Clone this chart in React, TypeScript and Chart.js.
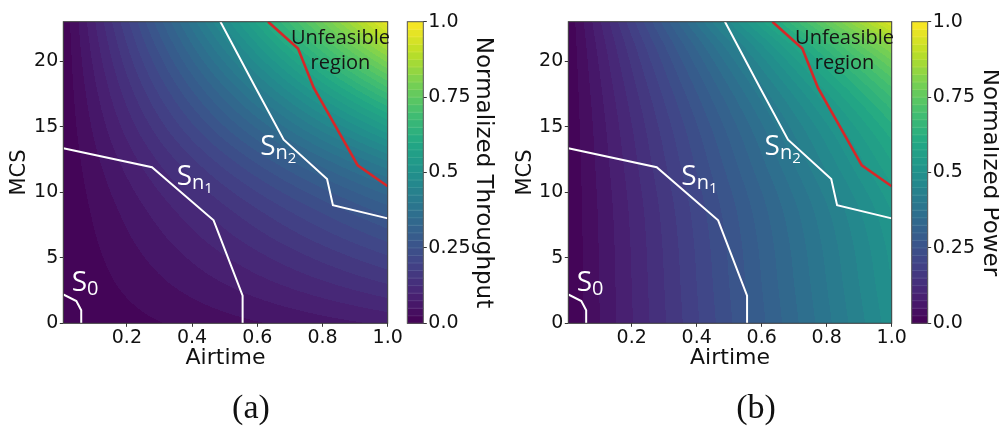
import { useEffect, useRef } from 'react';
import { Chart, registerables } from 'chart.js';

Chart.register(...registerables);

// ---------------- data ----------------
// grid nodes of the two fields
const airtimeNodes = [0, 0.1, 0.2, 0.3, 0.4, 0.5, 0.6, 0.7, 0.8, 0.9, 1.0];
const mcsNodes = [0, 3, 6, 9, 12, 15, 18, 21, 23];

// (a) normalized throughput, one row per MCS node (bottom to top)
const throughputGrid = [
  [0.000, 0.008, 0.016, 0.024, 0.032, 0.040, 0.048, 0.056, 0.064, 0.072, 0.080],
  [0.000, 0.015, 0.030, 0.045, 0.060, 0.075, 0.090, 0.105, 0.120, 0.135, 0.150],
  [0.000, 0.022, 0.044, 0.066, 0.088, 0.110, 0.132, 0.154, 0.176, 0.198, 0.220],
  [0.000, 0.030, 0.060, 0.090, 0.120, 0.150, 0.180, 0.210, 0.240, 0.270, 0.300],
  [0.000, 0.041, 0.082, 0.123, 0.164, 0.205, 0.246, 0.287, 0.328, 0.369, 0.410],
  [0.000, 0.055, 0.110, 0.165, 0.220, 0.275, 0.330, 0.385, 0.440, 0.495, 0.550],
  [0.000, 0.070, 0.140, 0.210, 0.280, 0.350, 0.420, 0.490, 0.560, 0.630, 0.700],
  [0.000, 0.086, 0.172, 0.258, 0.344, 0.430, 0.516, 0.602, 0.688, 0.774, 0.860],
  [0.000, 0.097, 0.194, 0.291, 0.388, 0.485, 0.582, 0.679, 0.776, 0.873, 0.970],
];

// (b) normalized power, one row per MCS node (bottom to top)
const powerGrid = [
  [0.000, 0.049, 0.098, 0.147, 0.196, 0.245, 0.294, 0.343, 0.392, 0.441, 0.490],
  [0.000, 0.050, 0.100, 0.150, 0.200, 0.250, 0.300, 0.350, 0.400, 0.450, 0.500],
  [0.000, 0.051, 0.102, 0.153, 0.204, 0.255, 0.306, 0.357, 0.408, 0.459, 0.510],
  [0.000, 0.053, 0.106, 0.159, 0.212, 0.265, 0.318, 0.371, 0.424, 0.477, 0.530],
  [0.000, 0.057, 0.114, 0.171, 0.228, 0.285, 0.342, 0.399, 0.456, 0.513, 0.570],
  [0.000, 0.062, 0.124, 0.186, 0.248, 0.310, 0.372, 0.434, 0.496, 0.558, 0.620],
  [0.000, 0.070, 0.140, 0.210, 0.280, 0.350, 0.420, 0.490, 0.560, 0.630, 0.700],
  [0.000, 0.082, 0.164, 0.246, 0.328, 0.410, 0.492, 0.574, 0.656, 0.738, 0.820],
  [0.000, 0.095, 0.190, 0.285, 0.380, 0.475, 0.570, 0.665, 0.760, 0.855, 0.950],
];

// boundary lines
const s0Airtime = [0.005, 0.045, 0.06, 0.06];
const s0Mcs = [2.2, 1.7, 1.0, 0];
const sn1Airtime = [0.005, 0.277, 0.466, 0.555, 0.555];
const sn1Mcs = [13.35, 11.9, 7.85, 2.1, 0];
const sn2Airtime = [0.487, 0.594, 0.681, 0.814, 0.832, 1.0];
const sn2Mcs = [23, 18, 14, 11, 9, 8.0];
const unfeasibleAirtime = [0.633, 0.725, 0.773, 0.908, 1.0];
const unfeasibleMcs = [23, 20.95, 17.97, 12.05, 10.45];

// ticks
const xTickValues = [0.2, 0.4, 0.6, 0.8, 1.0];
const yTickValues = [0, 5, 10, 15, 20];
const cbTickValues = [0, 0.25, 0.5, 0.75, 1.0];
const cbTickLabels = ['0.0', '0.25', '0.5', '0.75', '1.0'];

// text labels inside the plot (anchors in data units)
const setLabelNames = ['0', 'n', 'n'];
const setLabelSubs = ['', '1', '2'];
const setLabelAirtime = [0.037, 0.359, 0.615];
const setLabelMcs = [2.49, 10.57, 12.86];
const regionLines = ['Unfeasible', 'region'];
const regionAirtime = 0.855;
const regionMcs = [21.28, 19.37];

// ---------------- styling helpers ----------------
const viridisStops = ['#440154', '#482475', '#414487', '#355f8d', '#2a788e', '#21918c',
  '#22a884', '#44bf70', '#7ad151', '#bddf26', '#fde725'];
const VIR = viridisStops.map((h) => [
  parseInt(h.slice(1, 3), 16), parseInt(h.slice(3, 5), 16), parseInt(h.slice(5, 7), 16)]);
function viridis(t: number): number[] {
  const tt = Math.max(0, Math.min(1, t));
  const f = tt * (VIR.length - 1);
  const i = Math.min(VIR.length - 2, Math.floor(f));
  const u = f - i;
  return VIR[i].map((c, k) => c + (VIR[i + 1][k] - c) * u);
}
const LEVELS = 40;

// cubic Hermite through (nodes, vals) evaluated at q
function hermite(nodes: number[], vals: number[], q: number): number {
  const n = nodes.length;
  const qq = Math.max(nodes[0], Math.min(nodes[n - 1], q));
  let j = 0;
  while (j < n - 2 && qq > nodes[j + 1]) j++;
  const tan = (k: number) => {
    if (k === 0) return (vals[1] - vals[0]) / (nodes[1] - nodes[0]);
    if (k === n - 1) return (vals[n - 1] - vals[n - 2]) / (nodes[n - 1] - nodes[n - 2]);
    return (vals[k + 1] - vals[k - 1]) / (nodes[k + 1] - nodes[k - 1]);
  };
  const hgt = nodes[j + 1] - nodes[j];
  const t = (qq - nodes[j]) / hgt;
  const t2 = t * t, t3 = t2 * t;
  return (2 * t3 - 3 * t2 + 1) * vals[j] + (t3 - 2 * t2 + t) * hgt * tan(j)
    + (-2 * t3 + 3 * t2) * vals[j + 1] + (t3 - t2) * hgt * tan(j + 1);
}

function fieldPlugin(grid: number[][], cbBarWidth: number) {
  return {
    id: 'fieldAndColorbar',
    beforeDatasetsDraw(chart: any) {
      const { ctx, chartArea, scales } = chart;
      const xs = scales.x, ys = scales.y, cb = scales.cb;
      const x0 = Math.floor(chartArea.left), x1 = Math.ceil(chartArea.right);
      const y0 = Math.floor(chartArea.top), y1 = Math.ceil(chartArea.bottom);
      const w = x1 - x0, h = y1 - y0;
      const off = document.createElement('canvas');
      off.width = w; off.height = h;
      const octx = off.getContext('2d')!;
      const img = octx.createImageData(w, h);
      for (let i = 0; i < w; i++) {
        const a = xs.getValueForPixel(x0 + i + 0.5);
        const col = grid.map((row) => hermite(airtimeNodes, row, a));
        for (let j = 0; j < h; j++) {
          const m = ys.getValueForPixel(y0 + j + 0.5);
          const val = hermite(mcsNodes, col, m);
          const lev = Math.max(0, Math.min(LEVELS - 1, Math.floor(val * LEVELS)));
          const c = viridis((lev + 0.5) / LEVELS);
          const p = (j * w + i) * 4;
          img.data[p] = c[0]; img.data[p + 1] = c[1]; img.data[p + 2] = c[2]; img.data[p + 3] = 255;
        }
      }
      octx.putImageData(img, 0, 0);
      ctx.save();
      ctx.beginPath();
      ctx.rect(chartArea.left, chartArea.top, chartArea.right - chartArea.left, chartArea.bottom - chartArea.top);
      ctx.clip();
      ctx.drawImage(off, x0, y0);
      ctx.restore();

      // colorbar
      const cbRight = cb.left;
      const cbLeft = cbRight - cbBarWidth;
      ctx.save();
      for (let k = 0; k < LEVELS; k++) {
        const yTop = cb.getPixelForValue((k + 1) / LEVELS);
        const yBot = cb.getPixelForValue(k / LEVELS);
        const c = viridis((k + 0.5) / LEVELS);
        ctx.fillStyle = `rgb(${c[0]},${c[1]},${c[2]})`;
        ctx.fillRect(cbLeft, yTop, cbBarWidth, yBot - yTop + 0.6);
      }
      ctx.strokeStyle = 'rgba(255,255,255,0.10)';
      ctx.lineWidth = 1;
      for (let k = 1; k < LEVELS; k++) {
        const yy = cb.getPixelForValue(k / LEVELS);
        ctx.beginPath(); ctx.moveTo(cbLeft, yy); ctx.lineTo(cbRight, yy); ctx.stroke();
      }
      const top = cb.getPixelForValue(1), bot = cb.getPixelForValue(0);
      ctx.strokeStyle = '#555';
      ctx.lineWidth = 1;
      ctx.strokeRect(cbLeft, top, cbBarWidth, bot - top);
      ctx.restore();
    },
  };
}

const labelPlugin = {
  id: 'regionLabels',
  afterDatasetsDraw(chart: any) {
    const { ctx, chartArea, scales } = chart;
    const xs = scales.x, ys = scales.y;
    ctx.save();
    ctx.strokeStyle = '#3a3a3a';
    ctx.lineWidth = 1;
    ctx.strokeRect(chartArea.left, chartArea.top, chartArea.right - chartArea.left, chartArea.bottom - chartArea.top);

    ctx.textAlign = 'left';
    ctx.textBaseline = 'alphabetic';
    ctx.fillStyle = '#ffffff';
    for (let k = 0; k < setLabelNames.length; k++) {
      const px = xs.getPixelForValue(setLabelAirtime[k]) - 2;
      const py = ys.getPixelForValue(setLabelMcs[k]);
      ctx.font = '28px "Open Sans"';
      ctx.fillText('S', px, py);
      let cx = px + ctx.measureText('S').width;
      ctx.font = '20px "Open Sans"';
      ctx.fillText(setLabelNames[k], cx, py + 4);
      cx += ctx.measureText(setLabelNames[k]).width;
      if (setLabelSubs[k]) {
        ctx.font = '15px "Open Sans"';
        ctx.fillText(setLabelSubs[k], cx, py + 8);
      }
    }
    ctx.textAlign = 'center';
    ctx.fillStyle = '#151515';
    ctx.font = '20px "Open Sans"';
    for (let k = 0; k < regionLines.length; k++) {
      ctx.fillText(regionLines[k], xs.getPixelForValue(regionAirtime), ys.getPixelForValue(regionMcs[k]));
    }
    ctx.restore();
  },
};

function linePts(xs: number[], ys: number[]) {
  return xs.map((x, i) => ({ x, y: ys[i] }));
}

interface PanelCfg {
  grid: number[][];
  caption: string;
  cbTitle: string;
  padLeft: number;
  padRight: number;
  yAxisWidth: number;
  gapWidth: number;
  cbAxisWidth: number;
  cbTitlePad: number;
}

const panelA: PanelCfg = {
  grid: throughputGrid, caption: '(a)', cbTitle: 'Normalized Throughput',
  padLeft: 7.4, padRight: 5.5, yAxisWidth: 55.9, gapWidth: 35.6, cbAxisWidth: 71.2, cbTitlePad: 0,
};
const panelB: PanelCfg = {
  grid: powerGrid, caption: '(b)', cbTitle: 'Normalized Power',
  padLeft: 13.2, padRight: 0, yAxisWidth: 55.1, gapWidth: 36, cbAxisWidth: 71.3, cbTitlePad: -2,
};

const TEXT = '#111111';
const FONT = 'DejaVu Sans';

function makeChart(canvas: HTMLCanvasElement, p: PanelCfg) {
  const lineDs = (xs: number[], ys: number[], color: string, width: number) => ({
    data: linePts(xs, ys),
    showLine: true,
    borderColor: color,
    borderWidth: width,
    pointRadius: 0,
    tension: 0,
    fill: false,
    xAxisID: 'x',
    yAxisID: 'y',
  });
  const tickGrid = { display: true, drawOnChartArea: false, drawTicks: true, tickLength: 3.5, color: '#333', lineWidth: 1 };
  const config: any = {
    type: 'scatter',
    data: {
      datasets: [
        lineDs(s0Airtime, s0Mcs, '#ffffff', 2),
        lineDs(sn1Airtime, sn1Mcs, '#ffffff', 2),
        lineDs(sn2Airtime, sn2Mcs, '#ffffff', 2),
        lineDs(unfeasibleAirtime, unfeasibleMcs, '#d62728', 2.6),
      ],
    },
    options: {
      responsive: false,
      maintainAspectRatio: false,
      animation: false,
      events: [],
      layout: { padding: { left: p.padLeft, right: p.padRight, top: 21.7, bottom: 4.8 } },
      plugins: {
        legend: { display: false },
        tooltip: { enabled: false },
        title: {
          display: true, position: 'bottom', text: p.caption, color: TEXT,
          font: { family: 'Liberation Serif', size: 34, weight: 'normal', lineHeight: 1.2 },
          padding: { top: 16.5, bottom: 0 },
        },
      },
      scales: {
        x: {
          type: 'linear', position: 'bottom', min: 0.005, max: 1,
          afterBuildTicks: (s: any) => { s.ticks = xTickValues.map((v) => ({ value: v })); },
          afterFit: (s: any) => { s.height = 48.6; },
          grid: tickGrid,
          border: { display: false },
          ticks: {
            color: TEXT, font: { family: FONT, size: 19 }, padding: 0, maxRotation: 0, autoSkip: false,
            callback: (v: any) => Number(v).toFixed(1),
          },
          title: { display: true, text: 'Airtime', color: TEXT, font: { family: FONT, size: 22 }, padding: 0 },
        },
        y: {
          type: 'linear', position: 'left', min: 0, max: 23,
          afterBuildTicks: (s: any) => { s.ticks = yTickValues.map((v) => ({ value: v })); },
          afterFit: (s: any) => { s.width = p.yAxisWidth; },
          grid: tickGrid,
          border: { display: false },
          ticks: {
            color: TEXT, font: { family: FONT, size: 19 }, padding: 1.5, autoSkip: false,
            callback: (v: any) => String(v),
          },
          title: { display: true, text: 'MCS', color: TEXT, font: { family: FONT, size: 21 }, padding: 0 },
        },
        gap: {
          type: 'linear', position: 'right', min: 0, max: 1, weight: 0,
          grid: { display: false }, border: { display: false }, ticks: { display: false },
          afterFit: (s: any) => { s.width = p.gapWidth; },
        },
        cb: {
          type: 'linear', position: 'right', min: 0, max: 1, weight: 1,
          afterBuildTicks: (s: any) => { s.ticks = cbTickValues.map((v) => ({ value: v })); },
          afterFit: (s: any) => { s.width = p.cbAxisWidth; },
          grid: tickGrid,
          border: { display: false },
          ticks: {
            color: TEXT, font: { family: FONT, size: 19 }, padding: 1.5, autoSkip: false,
            callback: (_v: any, i: number) => cbTickLabels[i],
          },
          title: {
            display: true, text: p.cbTitle, color: TEXT,
            font: { family: FONT, size: 23, lineHeight: 1 }, padding: { top: p.cbTitlePad, bottom: 0 },
          },
        },
      },
    },
    plugins: [fieldPlugin(p.grid, 16), labelPlugin],
  };
  return new Chart(canvas, config);
}

export default function App() {
  const refA = useRef<HTMLCanvasElement>(null);
  const refB = useRef<HTMLCanvasElement>(null);
  useEffect(() => {
    const charts = [makeChart(refA.current!, panelA), makeChart(refB.current!, panelB)];
    return () => charts.forEach((c) => c.destroy());
  }, []);
  return (
    <div style={{ position: 'absolute', left: 0, top: 0, width: 999, height: 434, background: '#ffffff', overflow: 'hidden' }}>
      <canvas ref={refA} width={500} height={434}
        style={{ position: 'absolute', left: 0, top: 0, width: 500, height: 434 }} />
      <canvas ref={refB} width={499} height={434}
        style={{ position: 'absolute', left: 500, top: 0, width: 499, height: 434 }} />
    </div>
  );
}
